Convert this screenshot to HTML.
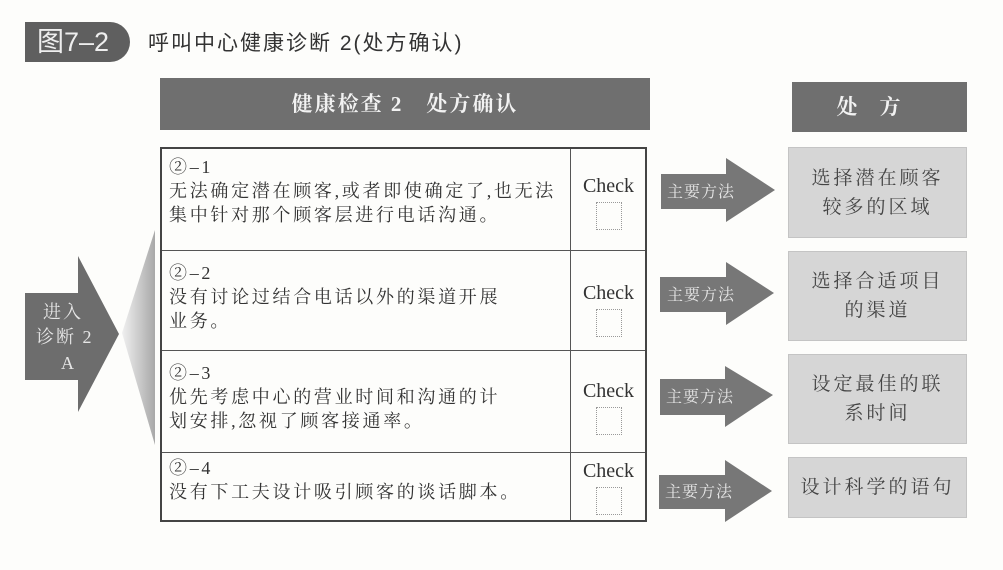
<!DOCTYPE html>
<html><head><meta charset="utf-8"><style>
body{margin:0;width:1003px;height:570px;background:#fdfdfb;position:relative;overflow:hidden;font-family:"Liberation Serif","Noto Serif CJK SC",serif;color:#333}
.a{position:absolute}
.badge{left:25px;top:22px;width:105px;height:40px;background:#5f5f5f;border-radius:0 20px 20px 0;color:#eee;font:27px "Liberation Sans","Noto Sans CJK SC",sans-serif;line-height:40px;text-indent:12px}
.title{left:148px;top:27px;font:21px "Liberation Sans","Noto Sans CJK SC",sans-serif;color:#333;letter-spacing:2px}
.hdr{background:#6f6f6f;color:#f2f2f2;text-align:center;font-size:21px;font-weight:bold;letter-spacing:2px}
.row{position:absolute;left:0;width:410px;padding-left:7px;font-size:18px;line-height:24px;color:#333;letter-spacing:2.7px;white-space:nowrap}
.chk{position:absolute;left:408px;width:77px;text-align:center;font-size:20px}
.chk div{width:24px;height:26px;border:1px dotted #999;margin:4px auto 0}
.box{position:absolute;left:788px;width:177px;background:#d6d6d6;border:1px solid #c4c4c4;display:flex;align-items:center;justify-content:center;text-align:center;font-size:19px;line-height:29px;letter-spacing:3px;color:#444}
</style></head><body>
<div class="a badge">图7–2</div>
<div class="a title">呼叫中心健康诊断 2(处方确认)</div>
<div class="a hdr" style="left:160px;top:78px;width:490px;height:52px;line-height:52px">健康检查 2　处方确认</div>
<div class="a hdr" style="left:792px;top:82px;width:175px;height:50px;line-height:50px;letter-spacing:22px">处方</div>
<svg class="a" style="left:0;top:0" width="1003" height="570">
<defs><linearGradient id="g" x1="0" x2="1"><stop offset="0" stop-color="#f0f0f0"/><stop offset="1" stop-color="#a8a8a8"/></linearGradient></defs>
<polygon points="25,293 78,293 78,256 119,334 78,412 78,380 25,380" fill="#6d6d6d"/>
<polygon points="122,333 155,230 155,445" fill="url(#g)"/>
<g fill="#777">
<polygon points="661,174 726,174 726,158 775,190 726,222 726,209 661,209"/>
<polygon points="660,277 726,277 726,262 774,293 726,325 726,312 660,312"/>
<polygon points="660,379 725,379 725,366 773,395 725,427 725,415 660,415"/>
<polygon points="659,475 725,475 725,460 772,491 725,522 725,509 659,509"/>
</g>
<g fill="#e6e6e6" font-family="Liberation Serif,Noto Serif CJK SC,serif" font-size="16">
<text x="667" y="197" letter-spacing="1">主要方法</text><text x="667" y="300" letter-spacing="1">主要方法</text><text x="666" y="402" letter-spacing="1">主要方法</text><text x="665" y="497" letter-spacing="1">主要方法</text>
<text x="43" y="318" font-size="18" letter-spacing="2">进入</text><text x="36" y="343" font-size="18" letter-spacing="2">诊断 2</text><text x="61" y="369" font-size="18">A</text>
</g>
</svg>
<div class="a" style="left:160px;top:147px;width:487px;height:375px;border:2px solid #444;box-sizing:border-box">
<div class="a" style="left:408px;top:0;width:1px;height:100%;background:#555"></div>
<div class="a" style="left:0;top:101px;width:100%;height:1px;background:#555"></div>
<div class="a" style="left:0;top:201px;width:100%;height:1px;background:#555"></div>
<div class="a" style="left:0;top:303px;width:100%;height:1px;background:#555"></div>
<div class="row" style="top:6px">②–1<br>无法确定潜在顾客,或者即使确定了,也无法<br>集中针对那个顾客层进行电话沟通。</div>
<div class="row" style="top:112px">②–2<br>没有讨论过结合电话以外的渠道开展<br>业务。</div>
<div class="row" style="top:212px">②–3<br>优先考虑中心的营业时间和沟通的计<br>划安排,忽视了顾客接通率。</div>
<div class="row" style="top:307px">②–4<br>没有下工夫设计吸引顾客的谈话脚本。</div>
<div class="chk" style="top:26px">Check<div></div></div>
<div class="chk" style="top:133px">Check<div></div></div>
<div class="chk" style="top:231px">Check<div></div></div>
<div class="chk" style="top:311px">Check<div></div></div>
</div>
<div class="box" style="top:147px;height:89px">选择潜在顾客<br>较多的区域</div>
<div class="box" style="top:251px;height:88px">选择合适项目<br>的渠道</div>
<div class="box" style="top:354px;height:88px">设定最佳的联<br>系时间</div>
<div class="box" style="top:457px;height:59px">设计科学的语句</div>
</body></html>
